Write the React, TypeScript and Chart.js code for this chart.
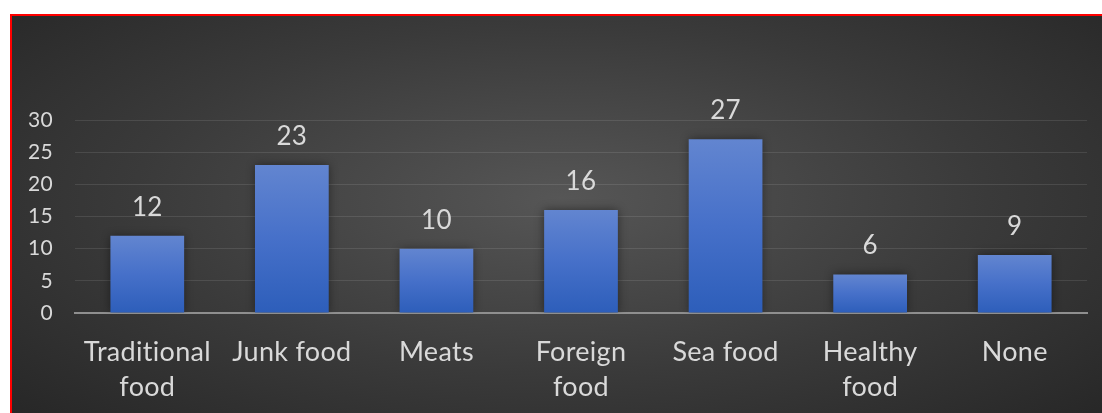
import React, { useEffect, useRef } from "react";
import { Chart, registerables } from "chart.js";

Chart.register(...registerables);

const categories: string[][] = [
  ["Traditional", "food"],
  ["Junk food"],
  ["Meats"],
  ["Foreign", "food"],
  ["Sea food"],
  ["Healthy", "food"],
  ["None"],
];
const values: number[] = [12, 23, 10, 16, 27, 6, 9];
const yMin = 0;
const yMax = 30;
const yStep = 5;

const FONT = "Lato, 'Open Sans', sans-serif";
const TEXT = "#d9d9d9";

const dataLabelPlugin = {
  id: "dataLabels",
  beforeDraw(chart: any) {
    try {
      chart.ctx.letterSpacing = "0.3px";
    } catch (e) {}
  },
  beforeDatasetsDraw(chart: any) {
    const ctx = chart.ctx;
    ctx.save();
    ctx.shadowColor = "rgba(0,0,0,0.45)";
    ctx.shadowBlur = 9;
    ctx.shadowOffsetX = 0;
    ctx.shadowOffsetY = 0;
  },
  afterDatasetsDraw(chart: any) {
    const ctx = chart.ctx;
    ctx.restore();
    ctx.save();
    ctx.font = `26px ${FONT}`;
    ctx.fillStyle = TEXT;
    ctx.textAlign = "center";
    ctx.textBaseline = "alphabetic";
    const meta = chart.getDatasetMeta(0);
    meta.data.forEach((el: any, i: number) => {
      ctx.fillText(String(chart.data.datasets[0].data[i]), el.x, el.y - 20);
    });
    ctx.restore();
  },
};

export default function App() {
  const ref = useRef<HTMLCanvasElement | null>(null);
  useEffect(() => {
    if (!ref.current) return;
    const chart = new Chart(ref.current, {
      type: "bar",
      data: {
        labels: categories,
        datasets: [
          {
            data: values,
            backgroundColor: (c: any) => {
              const ch = c.chart;
              const area = ch.chartArea;
              if (!area || c.type !== "data") return "#4472c4";
              const ys = ch.scales.y;
              const top = ys.getPixelForValue(c.parsed ? c.parsed.y : values[c.dataIndex]);
              const bottom = ys.getPixelForValue(0);
              if (!isFinite(top) || !isFinite(bottom) || top === bottom) return "#4472c4";
              const g = ch.ctx.createLinearGradient(0, top, 0, bottom);
              g.addColorStop(0, "#6285d0");
              g.addColorStop(0.5, "#4670c9");
              g.addColorStop(1, "#2d5eba");
              return g;
            },
            borderWidth: 0,
            barPercentage: 0.51,
            categoryPercentage: 1,
          },
        ],
      },
      options: {
        animation: false,
        responsive: true,
        maintainAspectRatio: false,
        layout: { padding: { top: 104, right: 15, left: 0, bottom: 0 } },
        plugins: {
          legend: { display: false },
          tooltip: { enabled: false },
          title: { display: false },
        },
        scales: {
          x: {
            grid: { display: false, drawTicks: false },
            border: { display: true, color: "#8f8f8f", width: 2 },
            ticks: {
              color: TEXT,
              font: { family: FONT, size: 27, lineHeight: 1.3 },
              padding: 22,
              maxRotation: 0,
              autoSkip: false,
            },
            afterFit: (s: any) => {
              s.height = 100;
            },
          },
          y: {
            min: yMin,
            max: yMax,
            grid: { color: "rgba(255,255,255,0.1)", lineWidth: 1, drawTicks: false },
            border: { display: false },
            ticks: {
              stepSize: yStep,
              color: TEXT,
              font: { family: FONT, size: 21 },
              padding: 22,
            },
            afterFit: (s: any) => {
              s.width = 63;
            },
          },
        },
      },
      plugins: [dataLabelPlugin],
    });
    return () => chart.destroy();
  }, []);

  return (
    <div
      style={{
        position: "fixed",
        left: 10,
        top: 14,
        width: 1100,
        height: 410,
        borderLeft: "2px solid #ff0000",
        borderTop: "2px solid #ff0000",
        background: "radial-gradient(ellipse at 50% 45%, #565656 0%, #3a3a3a 55%, #262626 100%)",
        boxSizing: "border-box",
      }}
    >
      <div style={{ position: "absolute", left: 0, top: 0, width: 1090, height: 397 }}>
        <canvas ref={ref} />
      </div>
    </div>
  );
}
